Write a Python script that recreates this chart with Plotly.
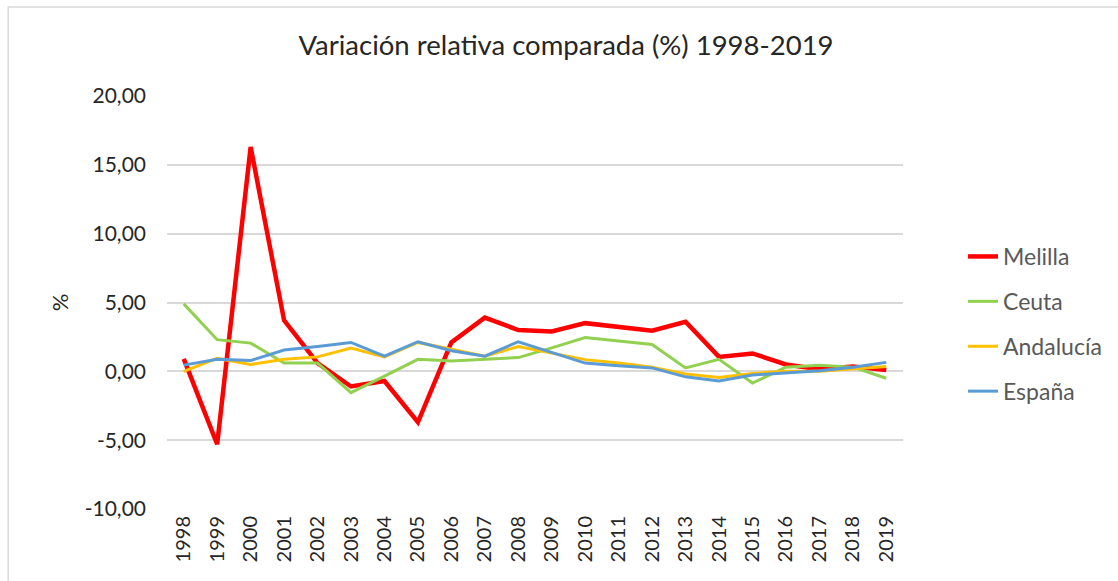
import plotly.graph_objects as go

years = [str(y) for y in range(1998, 2020)]
melilla = [0.9, -5.3, 16.3, 3.7, 0.6, -1.1, -0.7, -3.7, 2.1, 3.9, 3.0, 2.9, 3.5, 3.25, 2.95, 3.6,
           1.05, 1.3, 0.5, 0.15, 0.35, 0.1]
ceuta = [4.9, 2.3, 2.05, 0.6, 0.6, -1.55, -0.35, 0.87, 0.75, 0.9, 1.0, 1.7, 2.45, 2.2, 1.95, 0.25,
         0.87, -0.85, 0.3, 0.45, 0.3, -0.5]
andalucia = [0.0, 0.95, 0.5, 0.87, 1.05, 1.7, 1.05, 2.1, 1.6, 1.1, 1.8, 1.35, 0.85, 0.6, 0.3, -0.2,
             -0.45, -0.15, 0.0, 0.0, 0.15, 0.35]
espana = [0.45, 0.87, 0.78, 1.55, 1.8, 2.1, 1.1, 2.15, 1.5, 1.1, 2.15, 1.35, 0.6, 0.4, 0.25, -0.4,
          -0.7, -0.27, -0.1, 0.05, 0.3, 0.65]

y_ticks = [-10, -5, 0, 5, 10, 15, 20]
y_ticktext = ["-10,00", "-5,00", "0,00", "5,00", "10,00", "15,00", "20,00"]

series = [
    ("Melilla", melilla, "#FF0000", 4.5),
    ("Ceuta", ceuta, "#92D050", 3),
    ("Andalucía", andalucia, "#FFC000", 3),
    ("España", espana, "#5B9BD5", 3),
]

FONT = "Lato, 'Open Sans', sans-serif"

fig = go.Figure()
for i, (name, vals, color, w) in enumerate(series):
    fig.add_trace(go.Scatter(x=years, y=vals, name=name, mode="lines",
                             line=dict(color=color, width=w), legendgroup=f"g{i}"))

W, H = 1118, 581
L, R, T, B = 167, 904, 96, 509
pw, ph = R - L, B - T

def px(x):
    return (x - L) / pw

def py(y):
    return (B - y) / ph

fig.update_layout(
    width=W, height=H,
    margin=dict(l=L, r=W - R, t=T, b=H - B),
    paper_bgcolor="white", plot_bgcolor="white",
    font=dict(family=FONT, color="#404040"),
    title=dict(text="Variación relativa comparada (%) 1998-2019", x=566 / W, xanchor="center",
               y=1 - 45 / H, yanchor="middle", font=dict(size=27.5, color="#262626", family=FONT)),
    showlegend=True,
    legend=dict(x=px(963), y=py(235), xanchor="left", yanchor="top",
                font=dict(size=23, color="#595959", family=FONT),
                tracegroupgap=12, bgcolor="rgba(0,0,0,0)"),
    xaxis=dict(type="category", range=[-0.5, len(years) - 0.5], tickangle=-90,
               showgrid=False, showline=False, ticks="",
               tickfont=dict(size=20, color="#262626", family=FONT), ticklabelstandoff=2,
               fixedrange=True),
    yaxis=dict(range=[-10, 20], tickvals=y_ticks, ticktext=y_ticktext, showgrid=True,
               gridcolor="#D9D9D9", gridwidth=1.5, zeroline=False, showline=False, ticks="",
               tickfont=dict(size=21, color="#262626", family=FONT), ticklabelstandoff=20,
               title=dict(text="%", font=dict(size=22, color="#262626", family=FONT), standoff=10),
               fixedrange=True),
    shapes=[dict(type="rect", xref="paper", yref="paper",
                 x0=px(8), x1=px(W + 20), y0=py(H + 20), y1=py(7),
                 line=dict(color="#D9D9D9", width=1.5), fillcolor="rgba(0,0,0,0)", layer="below")],
)

fig.write_html("out.html", config={"displayModeBar": False},
               post_script="document.body.style.margin='0';document.body.style.overflow='hidden';")
